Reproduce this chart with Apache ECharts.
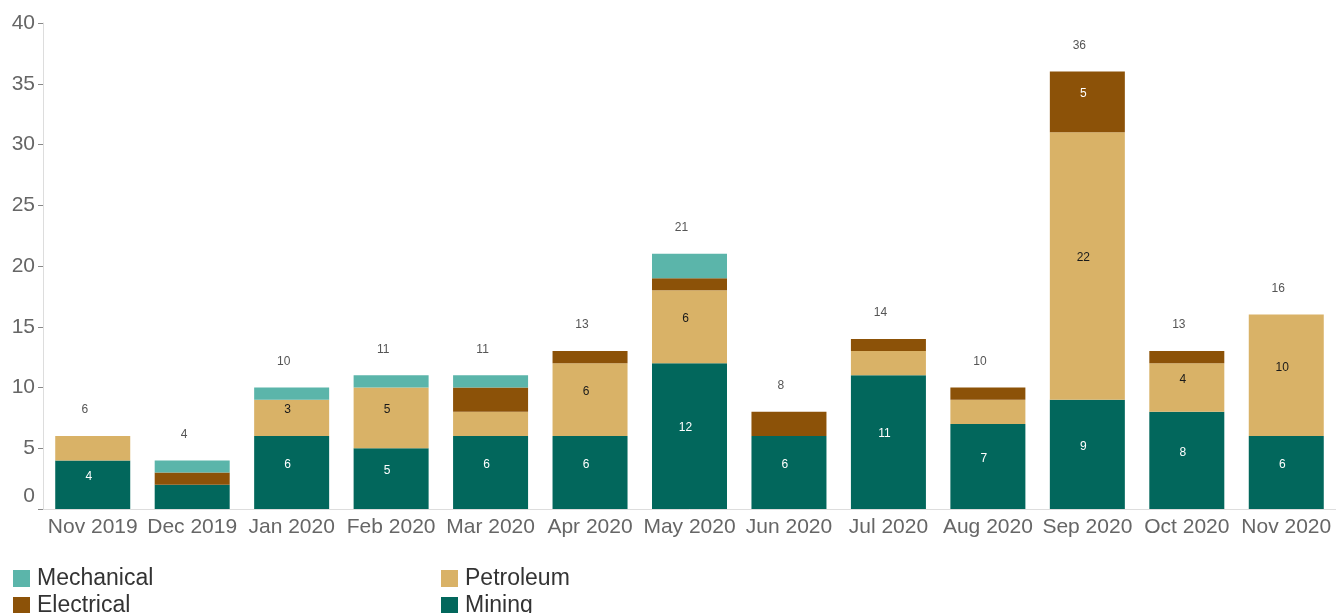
<!DOCTYPE html>
<html>
<head>
<meta charset="utf-8">
<script src="https://cdn.jsdelivr.net/npm/echarts@6/dist/echarts.min.js"></script>
<style>
html,body{margin:0;padding:0;background:#fff;}
#chart{width:1336px;height:613px;}
</style>
</head>
<body>
<div id="chart"></div>
<script>
var categories = ['Nov 2019','Dec 2019','Jan 2020','Feb 2020','Mar 2020','Apr 2020','May 2020','Jun 2020','Jul 2020','Aug 2020','Sep 2020','Oct 2020','Nov 2020'];
var mining     = [4, 2, 6, 5, 6, 6, 12, 6, 11, 7, 9, 8, 6];
var petroleum  = [2, 0, 3, 5, 2, 6, 6, 0, 2, 2, 22, 4, 10];
var electrical = [0, 1, 0, 0, 2, 1, 1, 2, 1, 1, 5, 1, 0];
var mechanical = [0, 1, 1, 1, 1, 0, 2, 0, 0, 0, 0, 0, 0];
var yTicks = [0, 5, 10, 15, 20, 25, 30, 35, 40];

var totals = categories.map(function(c, i){ return mining[i] + petroleum[i] + electrical[i] + mechanical[i]; });

var FONT = 'Liberation Sans, Arial, sans-serif';
var colors = {Mining:'#02675c', Petroleum:'#d9b267', Electrical:'#8c5208', Mechanical:'#5bb5aa'};

function seg(name, data, labelColor){
  return {
    name: name, type: 'bar', stack: 'total', data: data, barWidth: 75,
    itemStyle: {color: colors[name]},
    label: {
      show: true, position: 'inside', offset: [-4, -8],
      fontFamily: FONT, fontSize: 12, color: labelColor,
      formatter: function(p){ return p.value >= 3 ? String(p.value) : ''; }
    },
    emphasis: {disabled: true}
  };
}

function leg(name, left, top){
  return {
    data: [name], orient: 'horizontal', left: left, top: top, padding: 0,
    icon: 'rect', itemWidth: 17, itemHeight: 17,
    textStyle: {fontFamily: FONT, fontSize: 23, color: '#333', lineHeight: 25, padding: [0,0,0,2]},
    selectedMode: false
  };
}

var chart = echarts.init(document.getElementById('chart'), null, {renderer:'canvas'});
chart.setOption({
  animation: false,
  backgroundColor: '#fff',
  grid: {left: 43, top: 23, width: 1297, bottom: 104, containLabel: false},
  xAxis: {
    type: 'category', data: categories,
    axisLine: {show: true, lineStyle: {color: '#dddddd', width: 1}},
    axisTick: {show: false},
    axisLabel: {fontFamily: FONT, fontSize: 21, color: '#666', margin: 8, interval: 0}
  },
  yAxis: {
    type: 'value', min: yTicks[0], max: yTicks[yTicks.length-1], interval: 5,
    axisLine: {show: true, lineStyle: {color: '#dddddd', width: 1}},
    axisTick: {show: true, length: 5, lineStyle: {color: '#888'}},
    splitLine: {show: false},
    axisLabel: {
      fontFamily: FONT, fontSize: 21, color: '#666', margin: 8,
      formatter: function(v){ return v === 0 ? '{z|0}' : String(v); },
      rich: {z: {fontFamily: FONT, fontSize: 21, color: '#666', padding: [0,0,26,0]}}
    }
  },
  legend: [
    leg('Mechanical', 13, 566),
    leg('Electrical', 13, 593),
    leg('Petroleum', 441, 566),
    leg('Mining', 441, 593)
  ],
  series: [
    seg('Mining', mining, '#ffffff'),
    seg('Petroleum', petroleum, '#1a1a1a'),
    seg('Electrical', electrical, '#ffffff'),
    seg('Mechanical', mechanical, '#1a1a1a'),
    {
      name: 'Total', type: 'bar', stack: 'total', barWidth: 75,
      data: totals.map(function(){ return 0; }),
      itemStyle: {color: 'rgba(0,0,0,0)'},
      label: {
        show: true, position: 'top', distance: 20, offset: [-8, 0],
        fontFamily: FONT, fontSize: 12, color: '#555',
        formatter: function(p){ return String(totals[p.dataIndex]); }
      },
      emphasis: {disabled: true}
    }
  ]
});
</script>
</body>
</html>
